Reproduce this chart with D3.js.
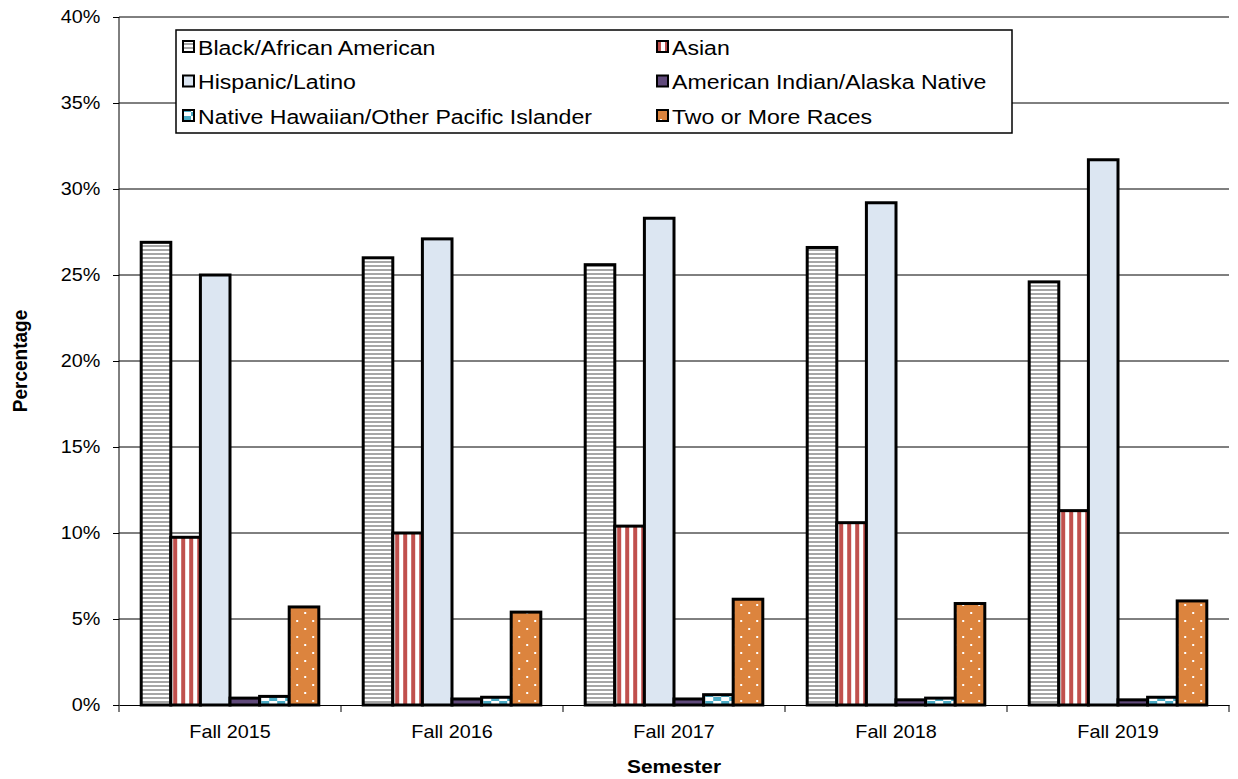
<!DOCTYPE html>
<html>
<head>
<meta charset="utf-8">
<script src="https://cdn.jsdelivr.net/npm/d3@7"></script>
<style>
  body { margin: 0; background: #fff; }
  svg { font-family: 'Liberation Sans', Arial, sans-serif; }
</style>
</head>
<body>
<svg class="chart" width="1238" height="779"></svg>
<script>
const semesters = ['Fall 2015', 'Fall 2016', 'Fall 2017', 'Fall 2018', 'Fall 2019'];
const groups = [
  'Black/African American',
  'Asian',
  'Hispanic/Latino',
  'American Indian/Alaska Native',
  'Native Hawaiian/Other Pacific Islander',
  'Two or More Races'
];
// percentages per group, one value per semester
const black    = [26.9, 26.0, 25.6, 26.6, 24.6];
const asian    = [9.75, 10.0, 10.4, 10.6, 11.3];
const hispanic = [25.0, 27.1, 28.3, 29.2, 31.7];
const amIndian = [0.4, 0.35, 0.35, 0.3, 0.3];
const hawaiian = [0.5, 0.45, 0.6, 0.4, 0.45];
const twoMore  = [5.7, 5.4, 6.15, 5.9, 6.05];
const yTicks = [0, 5, 10, 15, 20, 25, 30, 35, 40];

const series = [black, asian, hispanic, amIndian, hawaiian, twoMore];

const margin = {top: 17, right: 9, bottom: 74, left: 119};
const width = 1238 - margin.left - margin.right;
const height = 779 - margin.top - margin.bottom;
const stretch = 'scale(1.1,1)';   // text in the original is slightly wide

const svg = d3.select('svg.chart');
const defs = svg.append('defs');

// fill patterns
const pBlack = defs.append('pattern').attr('id', 'pBlack')
  .attr('patternUnits', 'userSpaceOnUse').attr('width', 8).attr('height', 4);
pBlack.append('rect').attr('width', 8).attr('height', 4).attr('fill', '#fff');
pBlack.append('rect').attr('y', 0).attr('width', 8).attr('height', 2).attr('fill', '#a6a6a6');

const pAsian = defs.append('pattern').attr('id', 'pAsian')
  .attr('patternUnits', 'userSpaceOnUse').attr('width', 8).attr('height', 8);
pAsian.append('rect').attr('width', 8).attr('height', 8).attr('fill', '#fff');
pAsian.append('rect').attr('x', 0).attr('width', 4).attr('height', 8).attr('fill', '#c0504d');

const pHaw = defs.append('pattern').attr('id', 'pHaw')
  .attr('patternUnits', 'userSpaceOnUse').attr('width', 16).attr('height', 8);
pHaw.append('rect').attr('width', 16).attr('height', 8).attr('fill', '#fff');
pHaw.append('rect').attr('x', 0).attr('y', 0).attr('width', 8).attr('height', 4).attr('fill', '#4bacc6');
pHaw.append('rect').attr('x', 8).attr('y', 4).attr('width', 8).attr('height', 4).attr('fill', '#4bacc6');

const pTwo = defs.append('pattern').attr('id', 'pTwo')
  .attr('patternUnits', 'userSpaceOnUse').attr('width', 16).attr('height', 16);
pTwo.append('rect').attr('width', 16).attr('height', 16).attr('fill', '#dc843e');
pTwo.append('rect').attr('x', 3).attr('y', 3).attr('width', 2).attr('height', 2).attr('fill', '#fff');
pTwo.append('rect').attr('x', 11).attr('y', 11).attr('width', 2).attr('height', 2).attr('fill', '#fff');

const fills = ['url(#pBlack)', 'url(#pAsian)', '#dce6f2', '#604a7b', 'url(#pHaw)', 'url(#pTwo)'];

const g = svg.append('g').attr('transform', `translate(${margin.left},${margin.top})`);

const x0 = d3.scaleBand().domain(semesters).range([0, width]).paddingInner(0.2).paddingOuter(0.1);
const x1 = d3.scaleBand().domain(d3.range(groups.length)).range([0, x0.bandwidth()]);
const y = d3.scaleLinear().domain([0, 40]).range([height, 0]);

// gridlines
g.selectAll('line.grid').data(yTicks.filter(t => t > 0)).enter().append('line')
  .attr('class', 'grid')
  .attr('x1', 0).attr('x2', width)
  .attr('y1', d => y(d)).attr('y2', d => y(d))
  .style('stroke', '#000').style('stroke-width', 1);

// y axis
const yAxis = g.append('g')
  .call(d3.axisLeft(y).tickValues(yTicks).tickFormat(d => d + '%').tickSize(6).tickPadding(11));
yAxis.select('.domain').attr('d', `M0,${height}V0`).style('stroke', '#000');
yAxis.selectAll('text').style('font-size', '18px').style('fill', '#000').attr('transform', stretch);

// bars
const semG = g.selectAll('g.sem').data(semesters).enter().append('g')
  .attr('class', 'sem')
  .attr('transform', d => `translate(${x0(d)},0)`);

semG.selectAll('rect').data((d, si) => series.map((s, gi) => ({gi, v: s[si]})))
  .enter().append('rect')
  .attr('x', d => x1(d.gi))
  .attr('y', d => y(d.v))
  .attr('width', x1.bandwidth())
  .attr('height', d => height - y(d.v))
  .style('fill', d => fills[d.gi])
  .style('stroke', '#000')
  .style('stroke-width', 3);

// x axis
const xAxis = g.append('g').attr('transform', `translate(0,${height})`)
  .call(d3.axisBottom(x0).tickSize(0).tickPadding(20));
xAxis.select('.domain').style('stroke', '#000');
xAxis.selectAll('text').style('font-size', '18px').style('fill', '#000').attr('transform', stretch);
const sepTicks = d3.range(semesters.length + 1).map(i => i * x0.step());
xAxis.selectAll('line.sep').data(sepTicks).enter().append('line')
  .attr('class', 'sep')
  .attr('x1', d => d).attr('x2', d => d)
  .attr('y1', 0).attr('y2', 7)
  .style('stroke', '#000');

// axis titles
svg.append('g')
  .attr('transform', `translate(${margin.left + width / 2},773) ${stretch}`)
  .append('text')
  .attr('text-anchor', 'middle')
  .style('font-size', '19px').style('font-weight', 'bold')
  .text('Semester');
svg.append('g')
  .attr('transform', `translate(27,${margin.top + height / 2}) scale(1.05,1) rotate(-90)`)
  .append('text')
  .attr('text-anchor', 'middle')
  .style('font-size', '19px').style('font-weight', 'bold')
  .text('Percentage');

// legend
const legend = svg.append('g').attr('transform', 'translate(176,30)');
legend.append('rect')
  .attr('width', 836).attr('height', 103)
  .style('fill', '#fff').style('stroke', '#000').style('stroke-width', 1.5);

const legItems = legend.selectAll('g.item').data(groups).enter().append('g')
  .attr('class', 'item')
  .attr('transform', (d, i) => `translate(${i % 2 === 0 ? 7 : 481},${17 + Math.floor(i / 2) * 34.5})`);
legItems.append('rect')
  .attr('y', -6)
  .attr('width', 11).attr('height', 11)
  .style('fill', (d, i) => fills[i])
  .style('stroke', '#000').style('stroke-width', 2);
legItems.append('g')
  .attr('transform', `translate(15,0) ${stretch}`)
  .append('text')
  .attr('dy', '0.36em')
  .style('font-size', '21px')
  .text(d => d);
</script>
</body>
</html>
